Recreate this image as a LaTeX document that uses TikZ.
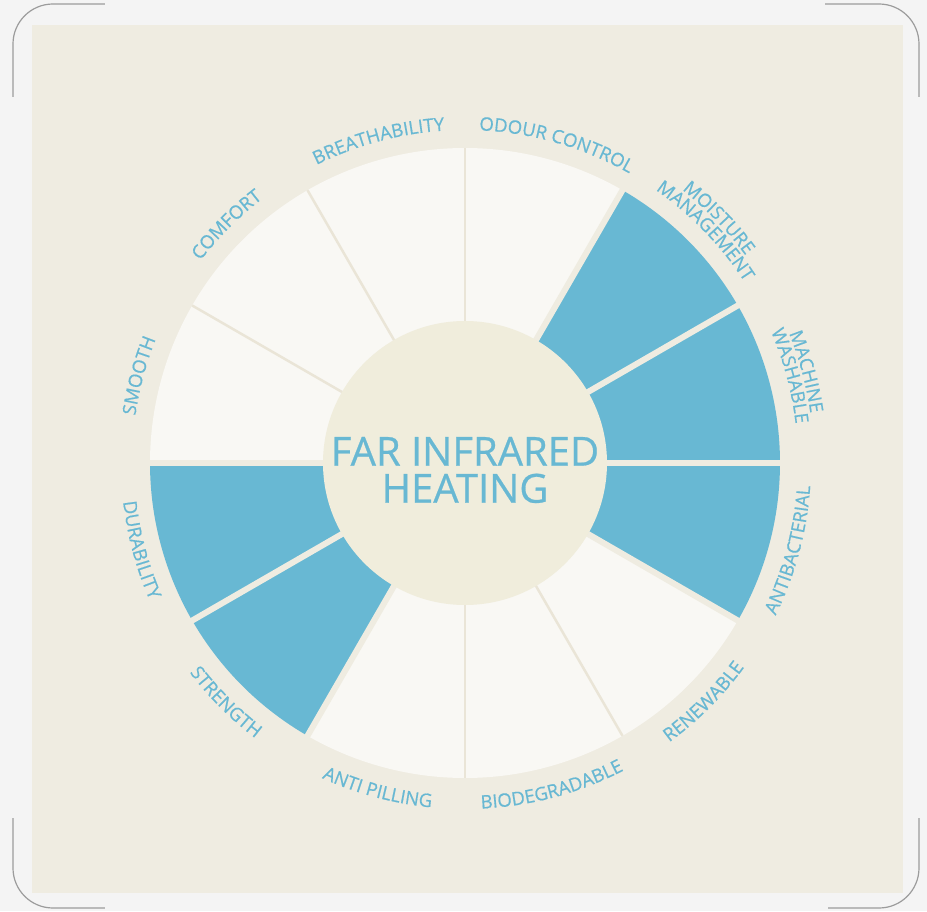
\documentclass[tikz,border=0pt]{standalone}
\usepackage{fontspec}
\newfontfamily\wheelfont{Open Sans}[FakeBold=0.6]
\usetikzlibrary{decorations.text}

\definecolor{framebg}{HTML}{F4F4F4}
\definecolor{fabric}{HTML}{EFECE1}
\definecolor{hubcream}{HTML}{F0EDDC}
\definecolor{plainseg}{HTML}{F9F8F4}
\definecolor{wheelblue}{HTML}{68B8D3}
\definecolor{seamline}{HTML}{EAE5D7}
\definecolor{framegray}{HTML}{9C9C9C}

\newcommand\labelfont{\wheelfont\fontsize{18.5}{20}\selectfont\color{wheelblue}}
% upper labels run clockwise, lower ones counter-clockwise
\newcommand\cwlabel[3]{%
  \path[decorate, decoration={text along path, text align=center, text={|\labelfont|#3}}]
    (#1+15:#2) arc[start angle=#1+15, end angle=#1-15, radius=#2];}
\newcommand\ccwlabel[3]{%
  \path[decorate, decoration={text along path, text align=center, text={|\labelfont|#3}}]
    (#1-15:#2) arc[start angle=#1-15, end angle=#1+15, radius=#2];}

\begin{document}
\begin{tikzpicture}[x=1pt, y=1pt,
    seg/.style={fill=plainseg},
    hot/.style={fill=wheelblue},
    seam/.style={draw=seamline, line width=2.5},
    gap/.style={draw=fabric, line width=6},
    corner/.style={draw=framegray, line width=1.2}]
    \useasboundingbox (-465,-448) rectangle (462,463);

    % Backdrop
    \fill[framebg] (-465,-448) rectangle (462,463);
    \fill[fabric] (-433,438) rectangle (438,-430);

    % Frame corners
    \draw[corner] (-452,366) -- (-452,419) arc[start angle=180, end angle=90, radius=40] -- (-360,459);
    \draw[corner] (360,459) -- (414,459) arc[start angle=90, end angle=0, radius=40] -- (454,366);
    \draw[corner] (454,-355) -- (454,-405) arc[start angle=0, end angle=-90, radius=40] -- (363,-445);
    \draw[corner] (-360,-445) -- (-412,-445) arc[start angle=270, end angle=180, radius=40] -- (-452,-355);

    % Sectors
    \foreach \a in {60,90,120,150,240,270,300}
        \fill[seg] (0,0) -- (\a:315) arc[start angle=\a, end angle=\a+30, radius=315] -- cycle;
    \foreach \a in {-30,0,30,180,210}
        \fill[hot] (0,0) -- (\a:315) arc[start angle=\a, end angle=\a+30, radius=315] -- cycle;

    % Seams between sectors
    \foreach \a in {90,120,150,270,300}
        \draw[seam] (0,0) -- (\a:315);
    \foreach \a in {0,30,60,180,210,240,330}
        \draw[gap] (0,0) -- (\a:318);

    % Hub
    \fill[hubcream] (0,0) circle[radius=142];
    \node[font=\wheelfont\fontsize{40}{37}\selectfont, text=wheelblue, align=center] (hub) at (0,-7) {FAR INFRARED\\HEATING};

    % Labels
    \cwlabel{74}{333}{ODOUR CONTROL}
    \cwlabel{44}{349}{MOISTURE}
    \cwlabel{44}{333}{MANAGEMENT}
    \cwlabel{15}{349}{MACHINE}
    \cwlabel{15}{333}{WASHABLE}
    \cwlabel{105}{333}{BREATHABILITY}
    \cwlabel{135}{333}{COMFORT}
    \cwlabel{165}{333}{SMOOTH}
    \ccwlabel{-15}{346}{ANTIBACTERIAL}
    \ccwlabel{-45}{346}{RENEWABLE}
    \ccwlabel{-75}{346}{BIODEGRADABLE}
    \ccwlabel{-105}{346}{ANTI PILLING}
    \ccwlabel{-135}{346}{STRENGTH}
    \ccwlabel{-165}{344}{DURABILITY}
\end{tikzpicture}
\end{document}
